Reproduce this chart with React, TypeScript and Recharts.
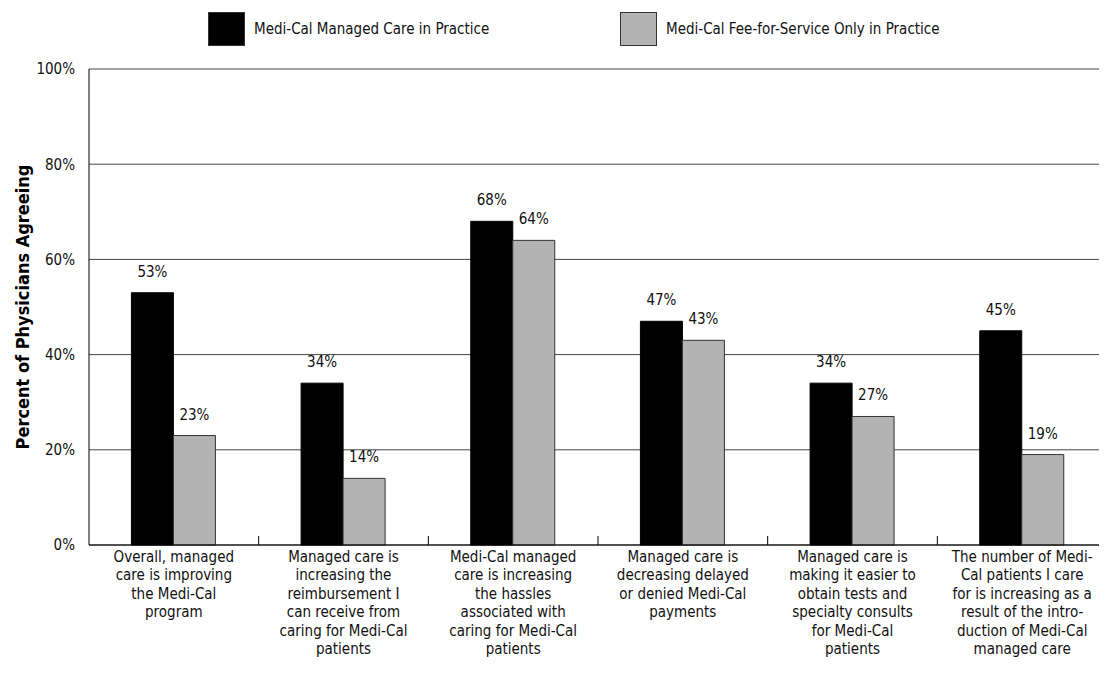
import { BarChart, Bar, XAxis, YAxis, CartesianGrid, LabelList } from "recharts"

// statements shown under each pair of bars (line breaks as printed)
const statements = [
  "Overall, managed\ncare is improving\nthe Medi-Cal\nprogram",
  "Managed care is\nincreasing the\nreimbursement I\ncan receive from\ncaring for Medi-Cal\npatients",
  "Medi-Cal managed\ncare is increasing\nthe hassles\nassociated with\ncaring for Medi-Cal\npatients",
  "Managed care is\ndecreasing delayed\nor denied Medi-Cal\npayments",
  "Managed care is\nmaking it easier to\nobtain tests and\nspecialty consults\nfor Medi-Cal\npatients",
  "The number of Medi-\nCal patients I care\nfor is increasing as a\nresult of the intro-\nduction of Medi-Cal\nmanaged care",
]
const managedCare = [53, 34, 68, 47, 34, 45]
const feeForService = [23, 14, 64, 43, 27, 19]
const yTicks = [0, 20, 40, 60, 80, 100]

const data = statements.map((s, i) => ({
  statement: s,
  managed: managedCare[i],
  ffs: feeForService[i],
}))

const FONT = "'Liberation Sans Narrow', 'DejaVu Sans Condensed', 'Arial Narrow', sans-serif"
const WIDTH = 1099
const HEIGHT = 671
const MARGIN = { top: 61, right: 0, left: 0, bottom: 0 }
const Y_WIDTH = 81
const GRAY = "#b3b3b3"

const bandWidth = (WIDTH - Y_WIDTH - MARGIN.right) / statements.length

function StatementTick(props: any) {
  const { x, y, payload, index } = props
  const lines = String(payload.value).split("\n")
  return (
    <g>
      {index > 0 && (
        <line x1={x - bandWidth / 2} x2={x - bandWidth / 2} y1={y} y2={y - 9} stroke="#000" />
      )}
      <text x={x} y={y + 17} textAnchor="middle" fontFamily={FONT} fontSize={15} fill="#111">
        {lines.map((l, i) => (
          <tspan key={i} x={x} dy={i === 0 ? 0 : 18.4}>
            {l}
          </tspan>
        ))}
      </text>
    </g>
  )
}

function TopLegend() {
  const items = [
    { label: "Medi-Cal Managed Care in Practice", fill: "#000", left: 200 },
    { label: "Medi-Cal Fee-for-Service Only in Practice", fill: GRAY, left: 612 },
  ]
  return (
    <>
      {items.map((it) => (
        <div
          key={it.label}
          style={{ position: "absolute", left: it.left, top: 4, display: "flex", alignItems: "center" }}
        >
          <div
            style={{
              width: 37,
              height: 34,
              background: it.fill,
              border: "1px solid #333",
              boxSizing: "border-box",
            }}
          />
          <span style={{ marginLeft: 9, fontFamily: FONT, fontSize: 15, color: "#111" }}>{it.label}</span>
        </div>
      ))}
    </>
  )
}

const pct = (v: any) => `${v}%`
const labelStyle = { fontFamily: FONT, fontSize: 15, fill: "#111" }

export default function App() {
  return (
    <div style={{ position: "relative", width: WIDTH, height: HEIGHT }}>
      <BarChart width={WIDTH} height={HEIGHT} data={data} margin={MARGIN} barCategoryGap="25%" barGap={0}>
        <CartesianGrid vertical={false} stroke="#444" />
        <XAxis
          dataKey="statement"
          interval={0}
          tickLine={false}
          tickSize={0}
          tickMargin={0}
          height={HEIGHT - MARGIN.top - 476}
          stroke="#000"
          tick={<StatementTick />}
        />
        <YAxis
          domain={[0, 100]}
          ticks={yTicks}
          width={Y_WIDTH}
          tickLine={false}
          tickMargin={8}
          stroke="#000"
          tickFormatter={pct}
          tick={{ fontFamily: FONT, fontSize: 15, fill: "#111" }}
          label={{
            value: "Percent of Physicians Agreeing",
            angle: -90,
            position: "insideLeft",
            offset: 15,
            style: { fontFamily: FONT, fontSize: 18, fontWeight: "bold", fill: "#000", textAnchor: "middle" },
          }}
        />
        <Bar dataKey="managed" fill="#000" stroke="#000" isAnimationActive={false}>
          <LabelList dataKey="managed" position="top" offset={16} formatter={pct} style={labelStyle} />
        </Bar>
        <Bar dataKey="ffs" fill={GRAY} stroke="#333" isAnimationActive={false}>
          <LabelList dataKey="ffs" position="top" offset={16} formatter={pct} style={labelStyle} />
        </Bar>
      </BarChart>
      <TopLegend />
    </div>
  )
}
